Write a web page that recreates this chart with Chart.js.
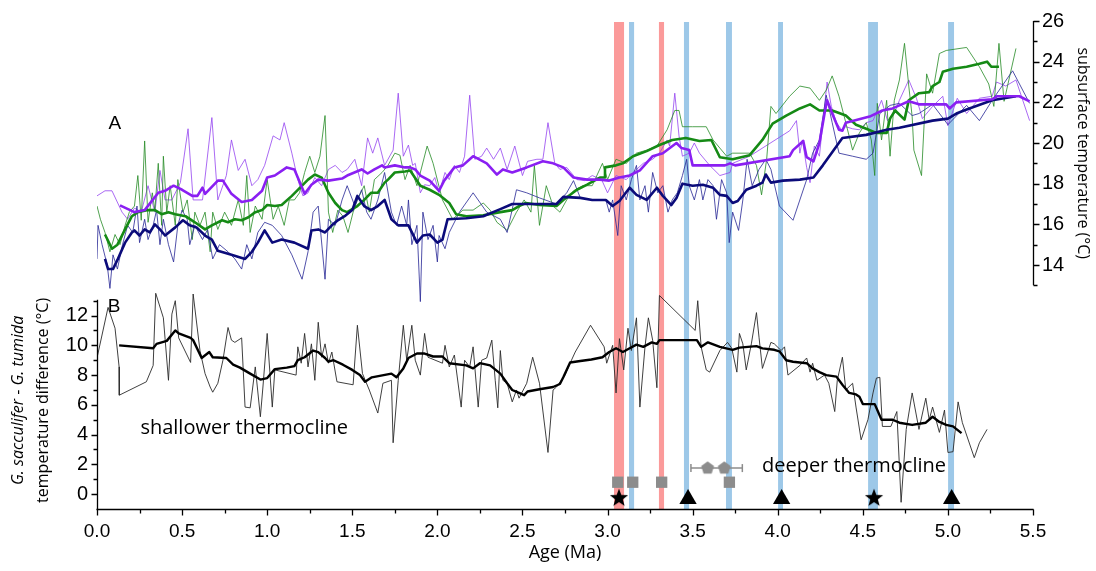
<!DOCTYPE html>
<html>
<head>
<meta charset="utf-8">
<script src="https://cdn.jsdelivr.net/npm/chart.js@4/dist/chart.umd.min.js"></script>
<style>
    html, body { margin: 0; padding: 0; background: #fff; }
</style>
</head>
<body>
<canvas id="chart" width="1096" height="571"></canvas>
<script>

// A: subsurface temperature records (violet, green, navy), raw and smoothed
var violetAge = [
    0, 0.047, 0.088, 0.147, 0.18, 0.22, 0.26, 0.30, 0.34, 0.37,
    0.40, 0.44, 0.49, 0.535, 0.565, 0.62, 0.675, 0.71, 0.76, 0.79,
    0.83, 0.87, 0.91, 0.945, 0.985, 1.035, 1.075, 1.10, 1.145, 1.18,
    1.21, 1.24, 1.28, 1.32, 1.36, 1.40, 1.44, 1.47, 1.515, 1.555,
    1.59, 1.62, 1.65, 1.69, 1.74, 1.77, 1.80, 1.83, 1.855, 1.87,
    1.90, 1.925, 1.955, 1.985, 2.01, 2.045, 2.07, 2.10, 2.13, 2.16,
    2.19, 2.22, 2.26, 2.29, 2.33, 2.37, 2.41, 2.455, 2.50, 2.53,
    2.585, 2.62, 2.65, 2.69, 2.72, 2.76, 2.82, 2.865, 2.91, 2.965,
    3.0, 3.05, 3.11, 3.15, 3.21, 3.265, 3.305, 3.35, 3.365, 3.395,
    3.42, 3.44, 3.48, 3.51, 3.54, 3.60, 3.66, 3.72, 3.735, 3.835,
    4.07, 4.11, 4.13, 4.145, 4.17, 4.19, 4.215, 4.245, 4.265, 4.29,
    4.315, 4.345, 4.375, 4.40, 4.44, 4.48, 4.52, 4.56, 4.61, 4.645,
    4.685, 4.715, 4.77, 4.815, 4.85, 4.91, 4.97, 5.0, 5.055, 5.11,
    5.185, 5.26, 5.285, 5.34, 5.40, 5.48
]
var violetTemp = [
    17.4, 17.65, 17.65, 16.6, 16.25, 16.8, 16.6, 17.9, 16.6, 18.65,
    17.2, 17.2, 18.05, 20.7, 17.2, 17.2, 21.25, 17.2, 18.4, 20.15,
    18.65, 19.2, 17.9, 18.2, 18.9, 20.35, 20.15, 21.0, 19.5, 18.2,
    17.4, 17.55, 18.3, 17.9, 18.7, 18.9, 18.55, 18.7, 19.2, 17.9,
    20.25, 19.5, 20.25, 18.9, 19.65, 22.45, 19.35, 19.9, 18.9, 19.0,
    17.55, 17.95, 17.9, 18.3, 17.55, 18.55, 18.2, 18.9, 18.55, 19.35,
    22.35, 19.2, 19.35, 19.75, 19.2, 19.75, 18.7, 19.85, 18.4, 19.1,
    19.2, 19.2, 21.0, 19.0, 18.7, 18.8, 18.2, 18.15, 18.4, 18.2,
    17.55, 18.4, 18.2, 18.55, 19.0, 19.2, 19.5, 20.15, 19.85, 22.45,
    20.35, 19.35, 19.5, 20.0, 19.5, 18.9, 18.4, 18.55, 19.0, 19.35,
    20.6, 21.1, 19.5, 20.15, 18.8, 18.05, 19.85, 19.35, 21.0, 23.0,
    21.8, 21.0, 20.65, 20.8, 20.7, 20.65, 21.0, 21.1, 22.1, 21.1,
    21.45, 22.1, 23.1, 22.2, 21.2, 21.8, 22.3, 20.85, 22.2, 21.45,
    22.2, 22.3, 23.0, 22.8, 23.1, 21.1
]
var violetSmoothAge = [
    0.135, 0.22, 0.28, 0.36, 0.40, 0.45, 0.50, 0.56, 0.59, 0.62,
    0.635, 0.71, 0.74, 0.79, 0.85, 0.91, 0.97, 1.0, 1.045, 1.115,
    1.16, 1.22, 1.26, 1.30, 1.36, 1.44, 1.47, 1.555, 1.59, 1.63,
    1.675, 1.69, 1.75, 1.81, 1.84, 1.87, 1.90, 1.955, 2.01, 2.04,
    2.10, 2.15, 2.21, 2.29, 2.35, 2.385, 2.44, 2.525, 2.62, 2.68,
    2.74, 2.80, 2.88, 2.955, 3.01, 3.07, 3.13, 3.19, 3.265, 3.325,
    3.405, 3.435, 3.48, 3.50, 3.69, 3.72, 3.75, 4.07, 4.09, 4.15,
    4.17, 4.21, 4.245, 4.275, 4.29, 4.32, 4.36, 4.38, 4.40, 4.54,
    4.615, 4.675, 4.715, 4.77, 4.83, 4.99, 5.01, 5.05, 5.26, 5.29,
    5.42, 5.48
]
var violetSmoothTemp = [
    16.93, 16.6, 16.7, 17.55, 17.65, 17.9, 17.7, 17.4, 17.4, 17.8,
    17.5, 18.15, 18.15, 17.5, 17.1, 17.2, 17.65, 18.3, 18.4, 18.8,
    18.7, 17.5, 17.95, 18.2, 18.15, 18.25, 18.4, 18.7, 18.5, 18.7,
    18.9, 18.8, 18.9, 18.8, 18.8, 18.7, 18.4, 18.15, 17.65, 18.15,
    18.8, 18.9, 19.35, 19.0, 18.45, 18.7, 18.55, 18.8, 19.1, 19.0,
    18.8, 18.3, 18.2, 18.2, 18.15, 18.3, 18.4, 18.65, 19.35, 19.5,
    20.0, 19.75, 19.65, 18.9, 18.9, 19.0, 18.9, 19.35, 19.65, 20.1,
    19.3, 19.1, 20.0, 21.45, 22.1, 21.45, 20.65, 20.6, 21.0, 21.3,
    21.6, 21.7, 21.85, 22.05, 21.9, 21.9, 21.7, 22.0, 22.15, 22.3,
    22.3, 22.05
]

var greenAge = [
    0, 0.02, 0.047, 0.076, 0.106, 0.135, 0.165, 0.19, 0.22, 0.24,
    0.26, 0.28, 0.30, 0.325, 0.34, 0.36, 0.38, 0.39, 0.41, 0.43,
    0.46, 0.475, 0.505, 0.53, 0.56, 0.575, 0.605, 0.635, 0.665, 0.68,
    0.71, 0.75, 0.79, 0.83, 0.86, 0.88, 0.90, 0.93, 0.97, 1.0,
    1.035, 1.065, 1.10, 1.13, 1.16, 1.19, 1.22, 1.25, 1.28, 1.31,
    1.34, 1.36, 1.385, 1.415, 1.445, 1.475, 1.505, 1.53, 1.57, 1.60,
    1.63, 1.675, 1.71, 1.75, 1.78, 1.81, 1.84, 1.88, 1.94, 1.975,
    2.03, 2.09, 2.15, 2.21, 2.27, 2.31, 2.35, 2.41, 2.465, 2.51,
    2.55, 2.57, 2.60, 2.64, 2.68, 2.72, 2.76, 2.80, 2.855, 2.91,
    2.97, 3.0, 3.05, 3.11, 3.17, 3.23, 3.29, 3.35, 3.395, 3.42,
    3.44, 3.50, 3.58, 3.62, 3.70, 3.735, 3.835, 3.875, 3.905, 3.935,
    3.96, 3.99, 4.07, 4.13, 4.19, 4.245, 4.285, 4.32, 4.36, 4.40,
    4.44, 4.48, 4.52, 4.55, 4.57, 4.585, 4.61, 4.64, 4.66, 4.685,
    4.715, 4.745, 4.77, 4.79, 4.80, 4.845, 4.875, 4.91, 4.95, 4.99,
    5.11, 5.185, 5.24, 5.27, 5.30, 5.33, 5.40
]
var greenTemp = [
    16.9, 16.25, 15.6, 14.65, 15.5, 15.0, 15.95, 16.6, 16.9, 18.4,
    16.2, 20.1, 16.1, 17.55, 16.7, 19.0, 15.95, 19.35, 16.6, 17.9,
    15.95, 18.2, 16.6, 17.2, 15.25, 16.6, 15.95, 16.6, 14.65, 16.6,
    15.75, 16.6, 15.95, 17.2, 15.95, 18.4, 15.6, 16.9, 16.25, 18.2,
    16.25, 16.9, 15.95, 17.2, 17.2, 17.55, 18.55, 19.35, 18.55, 19.35,
    21.35, 16.6, 15.6, 16.7, 16.4, 15.6, 16.6, 17.2, 17.9, 16.6,
    18.2, 18.55, 18.9, 19.5, 19.4, 18.2, 18.9, 17.9, 19.85, 19.0,
    17.2, 16.25, 16.7, 16.7, 17.05, 16.7, 16.1, 15.7, 16.6, 17.2,
    16.6, 18.9, 15.95, 17.9, 16.9, 16.6, 17.2, 17.65, 17.9, 17.9,
    19.0, 18.2, 19.2, 19.0, 19.5, 19.65, 19.85, 20.65, 21.6, 21.6,
    20.8, 20.8, 20.8, 20.15, 19.35, 19.5, 19.5, 18.9, 17.45, 19.2,
    21.8, 21.45, 22.3, 22.8, 22.7, 22.1, 22.6, 23.3, 22.3, 21.0,
    19.65, 20.5, 21.0, 20.15, 18.4, 21.95, 20.15, 22.1, 19.35, 22.1,
    23.1, 24.9, 22.8, 21.3, 19.65, 18.4, 23.4, 22.45, 24.4, 24.55,
    24.7, 23.75, 22.9, 21.8, 24.9, 22.05, 24.65
]
var greenSmoothAge = [
    0.047, 0.088, 0.12, 0.165, 0.205, 0.24, 0.30, 0.34, 0.38, 0.42,
    0.46, 0.52, 0.575, 0.635, 0.675, 0.735, 0.77, 0.81, 0.85, 0.89,
    0.93, 0.97, 1.0, 1.045, 1.085, 1.145, 1.205, 1.24, 1.28, 1.32,
    1.36, 1.40, 1.44, 1.47, 1.53, 1.57, 1.61, 1.65, 1.69, 1.71,
    1.75, 1.81, 1.84, 1.90, 1.955, 2.01, 2.07, 2.11, 2.17, 2.27,
    2.37, 2.44, 2.48, 2.52, 2.60, 2.70, 2.74, 2.82, 2.88, 2.955,
    2.98, 2.985, 3.05, 3.09, 3.15, 3.23, 3.305, 3.38, 3.46, 3.54,
    3.61, 3.66, 3.735, 3.835, 3.91, 3.97, 4.05, 4.13, 4.19, 4.245,
    4.32, 4.40, 4.46, 4.52, 4.58, 4.64, 4.66, 4.69, 4.745, 4.77,
    4.83, 4.89, 4.91, 4.95, 4.97, 5.03, 5.11, 5.185, 5.23, 5.255,
    5.30
]
var greenSmoothTemp = [
    15.5, 14.8, 15.0, 15.75, 16.4, 16.6, 16.7, 16.7, 16.5, 16.6,
    16.5, 16.4, 16.1, 15.75, 15.95, 16.2, 16.1, 16.25, 16.2, 16.35,
    16.6, 16.7, 16.95, 16.9, 16.95, 17.4, 17.9, 18.2, 18.45, 18.3,
    17.55, 17.05, 16.7, 16.6, 16.9, 17.2, 17.55, 17.55, 18.05, 18.2,
    18.55, 18.6, 18.65, 17.9, 17.7, 17.45, 17.05, 16.5, 16.4, 16.45,
    16.6, 16.7, 16.9, 17.05, 16.95, 16.9, 17.2, 17.7, 17.95, 18.3,
    18.3, 18.8, 18.9, 19.0, 19.35, 19.6, 19.9, 20.15, 20.25, 20.1,
    20.15, 19.3, 19.2, 19.4, 20.15, 20.95, 21.35, 21.7, 21.9, 21.6,
    21.6, 21.35, 20.9, 20.7, 20.5, 20.5, 21.2, 21.6, 21.15, 22.1,
    22.45, 22.5, 22.8, 23.0, 23.5, 23.65, 23.75, 23.9, 24.0, 23.75,
    23.75
]

var navyAge = [
    0, 0.006, 0.03, 0.06, 0.076, 0.094, 0.12, 0.15, 0.18, 0.21,
    0.235, 0.25, 0.28, 0.30, 0.33, 0.35, 0.37, 0.39, 0.42, 0.45,
    0.475, 0.50, 0.53, 0.545, 0.575, 0.62, 0.65, 0.68, 0.72, 0.77,
    0.81, 0.85, 0.88, 0.91, 0.945, 0.985, 1.03, 1.085, 1.145, 1.205,
    1.24, 1.27, 1.30, 1.34, 1.36, 1.40, 1.44, 1.47, 1.515, 1.555,
    1.585, 1.61, 1.65, 1.69, 1.73, 1.76, 1.79, 1.82, 1.83, 1.85,
    1.88, 1.90, 1.915, 1.945, 1.975, 2.0, 2.01, 2.045, 2.07, 2.13,
    2.21, 2.29, 2.37, 2.41, 2.465, 2.525, 2.60, 2.70, 2.76, 2.80,
    2.84, 2.91, 2.99, 3.01, 3.03, 3.06, 3.08, 3.11, 3.14, 3.17,
    3.19, 3.22, 3.24, 3.265, 3.295, 3.325, 3.355, 3.38, 3.41, 3.44,
    3.465, 3.48, 3.51, 3.54, 3.56, 3.59, 3.62, 3.64, 3.67, 3.70,
    3.715, 3.735, 3.77, 3.795, 3.82, 3.85, 3.89, 3.93, 3.96, 4.01,
    4.09, 4.17, 4.205, 4.245, 4.285, 4.32, 4.36, 4.44, 4.52, 4.56,
    4.60, 4.66, 4.715, 4.79, 4.83, 4.91, 5.0, 5.11, 5.185, 5.26,
    5.38, 5.48
]
var navyTemp = [
    14.3, 15.95, 15.0, 14.0, 12.85, 14.5, 13.8, 15.0, 15.95, 15.6,
    16.9, 15.1, 16.25, 15.25, 15.95, 16.7, 15.0, 16.25, 15.0, 14.15,
    15.95, 16.7, 16.25, 15.0, 15.95, 15.25, 15.75, 14.3, 15.0, 14.65,
    14.3, 13.8, 15.0, 14.3, 15.6, 16.1, 15.95, 15.45, 14.5, 13.3,
    14.65, 16.6, 16.9, 13.3, 16.25, 15.95, 17.2, 17.9, 16.9, 17.7,
    16.6, 16.25, 17.2, 18.55, 16.6, 15.95, 16.9, 15.95, 17.2, 15.0,
    15.95, 12.2, 16.6, 15.25, 15.95, 14.15, 15.45, 14.8, 15.6, 16.6,
    17.55, 16.6, 16.25, 15.6, 17.7, 17.55, 17.3, 17.0, 17.55, 18.15,
    17.3, 17.2, 17.2, 16.6, 17.2, 15.45, 17.9, 17.2, 18.2, 18.9,
    17.2, 17.9, 16.6, 18.55, 17.55, 17.9, 16.6, 17.2, 17.55, 18.4,
    19.2, 17.9, 17.2, 18.2, 17.2, 18.2, 17.9, 16.25, 18.2, 17.55,
    15.1, 16.6, 15.7, 17.2, 19.2, 17.9, 18.7, 19.2, 18.7, 16.9,
    16.2, 18.2, 19.5, 20.15, 22.35, 21.0, 19.5, 19.35, 19.2, 19.5,
    21.45, 21.85, 21.95, 21.35, 21.45, 21.9, 20.9, 21.85, 21.1, 22.1,
    23.55, 21.95
]
var navySmoothAge = [
    0.047, 0.065, 0.094, 0.12, 0.165, 0.205, 0.22, 0.25, 0.28, 0.31,
    0.34, 0.37, 0.40, 0.46, 0.505, 0.545, 0.585, 0.635, 0.675, 0.71,
    0.79, 0.87, 0.91, 0.945, 0.985, 1.03, 1.085, 1.16, 1.24, 1.26,
    1.30, 1.34, 1.38, 1.415, 1.455, 1.50, 1.53, 1.57, 1.61, 1.65,
    1.69, 1.73, 1.77, 1.83, 1.88, 1.915, 1.955, 2.0, 2.03, 2.06,
    2.17, 2.27, 2.37, 2.44, 2.52, 2.60, 2.70, 2.74, 2.84, 2.91,
    2.99, 3.03, 3.07, 3.13, 3.17, 3.23, 3.29, 3.325, 3.375, 3.405,
    3.44, 3.50, 3.56, 3.62, 3.66, 3.70, 3.735, 3.765, 3.815, 3.875,
    3.91, 3.93, 3.96, 4.03, 4.13, 4.21, 4.265, 4.32, 4.38, 4.52,
    4.64, 4.715, 4.91, 5.0, 5.05, 5.11, 5.26, 5.40
]
var navySmoothTemp = [
    14.3, 13.8, 13.8, 14.25, 15.1, 15.6, 15.7, 15.45, 15.75, 15.6,
    16.0, 15.75, 15.45, 15.85, 16.2, 15.95, 15.85, 15.45, 15.25, 14.7,
    14.5, 14.3, 14.65, 15.1, 15.7, 15.1, 15.25, 15.1, 14.8, 15.7,
    15.75, 15.6, 15.95, 16.2, 16.4, 16.7, 17.4, 16.9, 16.7, 16.9,
    17.2, 16.25, 15.95, 15.95, 15.1, 15.45, 15.5, 15.1, 15.25, 16.25,
    16.3, 16.4, 16.75, 17.0, 17.0, 17.0, 17.0, 17.35, 17.3, 17.2,
    17.2, 16.9, 17.15, 17.8, 17.45, 17.2, 17.8, 17.4, 16.95, 17.3,
    18.0, 17.9, 17.95, 17.8, 17.45, 17.4, 17.05, 17.15, 17.7, 17.9,
    18.05, 18.45, 18.05, 18.15, 18.2, 18.3, 18.9, 19.55, 20.25, 20.4,
    20.65, 20.75, 21.1, 21.2, 21.45, 21.65, 22.1, 22.3
]

// B: G. sacculifer - G. tumida temperature difference, raw and smoothed
var diffAge = [
    0, 0.065, 0.106, 0.13, 0.131, 0.29, 0.33, 0.345, 0.39, 0.42,
    0.44, 0.46, 0.48, 0.55, 0.565, 0.605, 0.635, 0.665, 0.68, 0.71,
    0.74, 0.77, 0.79, 0.81, 0.85, 0.87, 0.90, 0.93, 0.96, 0.975,
    1.0, 1.03, 1.045, 1.17, 1.18, 1.20, 1.22, 1.24, 1.26, 1.28,
    1.30, 1.32, 1.34, 1.36, 1.38, 1.41, 1.505, 1.53, 1.56, 1.60,
    1.65, 1.68, 1.73, 1.74, 1.77, 1.80, 1.82, 1.85, 1.87, 1.90,
    1.925, 1.945, 2.03, 2.045, 2.07, 2.10, 2.14, 2.16, 2.19, 2.21,
    2.24, 2.26, 2.29, 2.32, 2.34, 2.355, 2.37, 2.385, 2.41, 2.44,
    2.465, 2.48, 2.525, 2.56, 2.60, 2.65, 2.68, 2.70, 2.75, 2.78,
    2.81, 2.90, 2.98, 2.995, 3.03, 3.05, 3.07, 3.095, 3.12, 3.14,
    3.17, 3.19, 3.22, 3.24, 3.265, 3.29, 3.305, 3.515, 3.53, 3.55,
    3.58, 3.60, 3.66, 3.705, 3.73, 3.76, 3.775, 3.795, 3.815, 3.845,
    3.875, 3.89, 3.91, 3.96, 3.98, 4.02, 4.04, 4.06, 4.13, 4.17,
    4.19, 4.205, 4.23, 4.275, 4.30, 4.335, 4.35, 4.38, 4.40, 4.44,
    4.46, 4.49, 4.53, 4.56, 4.58, 4.60, 4.615, 4.665, 4.70, 4.725,
    4.755, 4.79, 4.83, 4.87, 4.89, 4.91, 4.95, 4.98, 5.0, 5.03,
    5.06, 5.085, 5.155, 5.185, 5.23
]
var diffTemp = [
    9.15, 12.55, 11.15, 8.55, 6.65, 7.55, 8.65, 13.5, 11.85, 7.65,
    12.1, 13.0, 10.5, 8.85, 13.45, 9.65, 8.1, 7.2, 6.85, 7.45,
    9.0, 11.2, 10.35, 10.2, 10.5, 5.85, 5.8, 8.55, 5.2, 7.2,
    10.8, 5.85, 8.35, 8.0, 9.9, 8.8, 10.8, 8.55, 10.1, 7.65,
    11.55, 9.2, 10.1, 8.8, 9.55, 7.55, 7.35, 11.35, 8.1, 7.0,
    5.45, 7.45, 7.65, 3.45, 7.65, 11.35, 9.0, 11.35, 9.0, 8.0,
    10.8, 9.2, 8.8, 10.0, 8.55, 9.35, 5.85, 9.0, 8.55, 9.9,
    5.85, 9.0, 9.15, 10.35, 7.65, 5.8, 9.65, 7.65, 7.45, 6.2,
    7.0, 6.45, 7.45, 9.2, 7.45, 2.8, 7.0, 7.2, 8.0, 8.8,
    9.55, 11.35, 9.9, 8.8, 10.0, 6.8, 10.45, 8.35, 11.15, 9.65,
    11.85, 5.85, 9.9, 11.85, 10.35, 7.15, 13.35, 11.0, 13.0, 9.9,
    8.35, 8.2, 9.65, 10.2, 9.8, 8.2, 10.8, 10.1, 8.35, 10.1,
    12.2, 10.55, 8.45, 10.2, 10.1, 9.65, 9.9, 8.0, 8.65, 9.15,
    8.2, 8.8, 7.65, 8.0, 7.45, 5.55, 7.65, 9.2, 7.0, 7.45,
    5.85, 3.65, 5.0, 6.8, 7.8, 7.85, 4.55, 4.55, 5.55, -0.55,
    4.35, 6.8, 4.35, 6.45, 5.0, 5.85, 4.15, 5.65, 2.8, 2.85,
    6.2, 4.8, 2.45, 3.45, 4.35
]
var diffSmoothAge = [
    0.13, 0.33, 0.35, 0.41, 0.46, 0.48, 0.55, 0.565, 0.615, 0.66,
    0.68, 0.76, 0.80, 0.84, 0.90, 0.96, 1.0, 1.045, 1.115, 1.16,
    1.18, 1.22, 1.27, 1.30, 1.34, 1.36, 1.39, 1.445, 1.50, 1.545,
    1.575, 1.615, 1.73, 1.76, 1.80, 1.83, 1.88, 1.925, 1.975, 2.03,
    2.07, 2.17, 2.21, 2.25, 2.31, 2.37, 2.41, 2.44, 2.48, 2.51,
    2.53, 2.60, 2.68, 2.72, 2.74, 2.78, 2.84, 2.905, 2.97, 3.01,
    3.05, 3.09, 3.13, 3.17, 3.21, 3.26, 3.29, 3.305, 3.525, 3.55,
    3.59, 3.66, 3.735, 3.775, 3.875, 3.91, 3.98, 4.01, 4.05, 4.09,
    4.17, 4.205, 4.245, 4.285, 4.345, 4.38, 4.42, 4.46, 4.48, 4.50,
    4.57, 4.61, 4.675, 4.715, 4.79, 4.87, 4.91, 4.95, 4.99, 5.03,
    5.08
]
var diffSmoothTemp = [
    10.0, 9.8, 10.1, 10.3, 11.0, 10.8, 10.5, 10.35, 9.15, 9.55,
    9.2, 9.15, 8.7, 8.5, 8.1, 7.7, 7.8, 8.4, 8.5, 8.6,
    9.0, 9.2, 9.65, 9.55, 9.15, 8.9, 9.0, 8.7, 8.35, 8.0,
    7.55, 7.85, 8.1, 7.85, 8.45, 9.15, 9.45, 9.45, 9.25, 9.25,
    8.8, 8.65, 8.45, 8.8, 8.65, 8.1, 7.45, 7.0, 6.8, 6.65,
    6.9, 7.05, 7.2, 7.4, 7.85, 8.85, 8.95, 9.05, 9.2, 9.55,
    9.8, 9.55, 9.8, 10.05, 9.9, 10.2, 10.1, 10.35, 10.35, 9.9,
    10.2, 9.9, 9.7, 9.85, 9.95, 9.8, 9.7, 9.6, 9.0, 8.9,
    8.8, 8.45, 8.2, 8.0, 7.9, 7.35, 6.8, 6.7, 6.55, 6.05,
    6.05, 5.0, 5.0, 4.8, 4.65, 4.8, 5.2, 4.85, 4.65, 4.55,
    4.1
]

// tick labels
var ageTicks = [0, 0.5, 1, 1.5, 2, 2.5, 3, 3.5, 4, 4.5, 5, 5.5]
var tempTicks = [14, 16, 18, 20, 22, 24, 26]
var diffTicks = [0, 2, 4, 6, 8, 10, 12]

// shaded age intervals (Ma)
var redBands = [[3.038, 3.097], [3.302, 3.332]]
var blueBands = [[3.126, 3.156], [3.449, 3.479], [3.696, 3.731], [4.002, 4.031], [4.531, 4.589], [5.001, 5.036]]

// event markers along the bottom of panel B
var squareAges = [3.06, 3.148, 3.318, 3.716]
var pentagonAges = [3.588, 3.686]
var pentagonRange = [3.49, 3.792]
var triangleAges = [3.473, 4.023, 5.022]
var starAges = [3.067, 4.566]
var squareLevel = 0.8
var pentagonLevel = 1.75
var triangleLevel = -0.33
var starLevel = -0.27


var SANS = '"Open Sans", "Liberation Sans", sans-serif'
var TICKFONT = '"Liberation Sans", Arial, sans-serif'
var GREY = '#8c8c8c'

function pairs(xs, ys) {
    return xs.map((x, i) => ({ x: x, y: ys[i] }))
}

function series(xs, ys, axis, color, width, order) {
    return {
        data: pairs(xs, ys),
        yAxisID: axis,
        showLine: true,
        borderColor: color,
        borderWidth: width,
        borderJoinStyle: 'round',
        pointRadius: 0,
        pointHoverRadius: 0,
        order: order
    }
}

function markers(xs, level, style, color, radius, order) {
    return {
        data: xs.map(x => ({ x: x, y: level })),
        yAxisID: 'y',
        showLine: false,
        pointStyle: style,
        pointRadius: radius,
        pointHoverRadius: radius,
        backgroundColor: color,
        borderColor: color,
        pointBorderWidth: 0,
        order: order
    }
}

// small filled shapes used as point styles
function shape(size, color, points) {
    var c = document.createElement('canvas')
    c.width = size
    c.height = size
    var g = c.getContext('2d')
    g.fillStyle = color
    g.beginPath()
    points.forEach((p, i) => i ? g.lineTo(size / 2 + p[0], size / 2 + p[1]) : g.moveTo(size / 2 + p[0], size / 2 + p[1]))
    g.closePath()
    g.fill()
    return c
}

function polygon(n, rOuter, rInner) {
    var pts = []
    var steps = rInner ? n * 2 : n
    for (var i = 0; i < steps; i++) {
        var r = (rInner && i % 2) ? rInner : rOuter
        var a = -Math.PI / 2 + i * Math.PI * 2 / steps
        pts.push([Math.cos(a) * r, Math.sin(a) * r])
    }
    return pts
}

var pentagonImg = shape(16, GREY, polygon(5, 6.8))
var starImg = shape(22, '#000', polygon(5, 9.6, 4))


var datasets = [
    markers(starAges, starLevel, starImg, '#000', 10, 0),
    markers(triangleAges, triangleLevel, 'triangle', '#000', 10, 0),
    markers(squareAges, squareLevel, 'rect', GREY, 8, 0),
    markers(pentagonAges, pentagonLevel, pentagonImg, GREY, 8, 0),
    {
        data: pentagonRange.map(x => ({ x: x, y: pentagonLevel })),
        yAxisID: 'y',
        showLine: true,
        borderColor: GREY,
        borderWidth: 1.5,
        pointStyle: 'line',
        rotation: 90,
        pointRadius: 4,
        pointBorderColor: GREY,
        pointBorderWidth: 1.5,
        order: 1
    },
    series(diffSmoothAge, diffSmoothTemp, 'y', '#000', 2.4, 2),
    series(diffAge, diffTemp, 'y', '#2a2a2a', 0.9, 3),
    series(violetSmoothAge, violetSmoothTemp, 'y2', '#8a1ff2', 2.6, 4),
    series(navySmoothAge, navySmoothTemp, 'y2', '#0b0b7a', 2.6, 5),
    series(greenSmoothAge, greenSmoothTemp, 'y2', '#158a15', 2.6, 6),
    series(navyAge, navyTemp, 'y2', 'rgba(40, 40, 150, 0.9)', 0.9, 7),
    series(greenAge, greenTemp, 'y2', 'rgba(40, 140, 40, 0.9)', 0.9, 8),
    series(violetAge, violetTemp, 'y2', 'rgba(150, 70, 240, 0.9)', 0.9, 9)
]


function drawMixed(ctx, parts) {
    var total = 0
    parts.forEach(p => { ctx.font = p[1]; total += ctx.measureText(p[0]).width })
    var x = -total / 2
    parts.forEach(p => {
        ctx.font = p[1]
        ctx.fillText(p[0], x, 0)
        x += ctx.measureText(p[0]).width
    })
}

var decor = {
    id: 'decor',
    beforeDatasetsDraw(chart) {
        var ctx = chart.ctx
        var xs = chart.scales.x
        var area = chart.chartArea
        ctx.save()
        var paint = (bands, color) => {
            ctx.fillStyle = color
            bands.forEach(b => {
                var x0 = xs.getPixelForValue(b[0])
                var x1 = xs.getPixelForValue(b[1])
                ctx.fillRect(x0, area.top + 1, x1 - x0, area.bottom - area.top - 1)
            })
        }
        paint(redBands, '#fb9a9a')
        paint(blueBands, '#9dc8e8')
        ctx.restore()
    },
    afterDatasetsDraw(chart) {
        var ctx = chart.ctx
        var xs = chart.scales.x
        var yl = chart.scales.y
        var yr = chart.scales.y2
        ctx.save()
        ctx.strokeStyle = '#000'
        ctx.lineWidth = 1.3

        // age axis
        var yb = Math.round(yl.getPixelForValue(-1)) + 0.5
        ctx.beginPath()
        ctx.moveTo(xs.getPixelForValue(0) - 0.6, yb)
        ctx.lineTo(xs.getPixelForValue(5.5) + 0.6, yb)
        for (var a = 0; a <= 5.5001; a += 0.25) {
            var px = Math.round(xs.getPixelForValue(a)) + 0.5
            var major = Math.abs(a * 2 - Math.round(a * 2)) < 1e-6
            ctx.moveTo(px, yb)
            ctx.lineTo(px, yb + (major ? 6 : 4))
        }
        ctx.stroke()

        // difference axis (left)
        var xl = Math.round(xs.getPixelForValue(0)) + 0.5
        ctx.beginPath()
        ctx.moveTo(xl, yb)
        ctx.lineTo(xl, yl.getPixelForValue(13.07))
        for (var v = 0; v <= 13; v++) {
            var py = Math.round(yl.getPixelForValue(v)) + 0.5
            ctx.moveTo(xl, py)
            ctx.lineTo(xl - (v % 2 ? 4 : 6), py)
        }
        ctx.stroke()

        // temperature axis (right)
        var xr = Math.round(xs.getPixelForValue(5.5)) + 0.5
        ctx.beginPath()
        ctx.moveTo(xr, yr.getPixelForValue(26))
        ctx.lineTo(xr, yr.getPixelForValue(13))
        for (var t = 13; t <= 26; t++) {
            var ty = Math.round(yr.getPixelForValue(t)) + 0.5
            ctx.moveTo(xr, ty)
            ctx.lineTo(xr + (t % 2 ? 4 : 6), ty)
        }
        ctx.stroke()

        ctx.fillStyle = '#000'
        ctx.textBaseline = 'middle'
        ctx.textAlign = 'center'

        // panel letters
        ctx.font = '19px ' + TICKFONT
        ctx.fillText('A', xs.getPixelForValue(0.105), yr.getPixelForValue(20.95))
        ctx.fillText('B', xs.getPixelForValue(0.1), yl.getPixelForValue(12.6))

        // annotations
        ctx.font = '20px ' + SANS
        ctx.fillText('shallower thermocline', xs.getPixelForValue(0.865), yl.getPixelForValue(4.4))
        ctx.fillText('deeper thermocline', xs.getPixelForValue(4.448), yl.getPixelForValue(1.87))

        // left title, two lines, rotated
        var cy = yl.getPixelForValue(6.3)
        ctx.textAlign = 'left'
        ctx.save()
        ctx.translate(18, cy)
        ctx.rotate(-Math.PI / 2)
        drawMixed(ctx, [
            ['G. sacculifer', 'italic 16px ' + SANS],
            [' - ', '16px ' + SANS],
            ['G. tumida', 'italic 16px ' + SANS]
        ])
        ctx.restore()
        ctx.save()
        ctx.translate(43, cy)
        ctx.rotate(-Math.PI / 2)
        drawMixed(ctx, [['temperature difference (°C)', '16px ' + SANS]])
        ctx.restore()

        // right title
        ctx.save()
        ctx.translate(chart.chartArea.right + 50, yr.getPixelForValue(19.5))
        ctx.rotate(Math.PI / 2)
        drawMixed(ctx, [['subsurface temperature (°C)', '16px ' + SANS]])
        ctx.restore()

        ctx.restore()
    }
}


var chart = new Chart(document.getElementById('chart'), {
    type: 'scatter',
    data: { datasets: datasets },
    options: {
        responsive: false,
        animation: false,
        events: [],
        layout: { padding: { top: 17, left: 0, right: 0, bottom: 0 } },
        plugins: {
            legend: { display: false },
            tooltip: { enabled: false }
        },
        scales: {
            x: {
                type: 'linear',
                position: 'bottom',
                min: 0,
                max: 5.5,
                afterBuildTicks: s => { s.ticks = ageTicks.map(v => ({ value: v })) },
                afterFit: s => { s.height = 62 },
                grid: { display: false, drawTicks: false },
                border: { display: false },
                ticks: {
                    padding: 11,
                    autoSkip: false,
                    maxRotation: 0,
                    color: '#000',
                    font: { family: TICKFONT, size: 19 },
                    callback: v => v.toFixed(1)
                },
                title: {
                    display: true,
                    text: 'Age (Ma)',
                    color: '#000',
                    font: { family: SANS, size: 18 },
                    padding: { top: 0, bottom: 7 }
                }
            },
            y: {
                type: 'linear',
                position: 'left',
                min: -1,
                max: 31.8,
                afterBuildTicks: s => { s.ticks = diffTicks.map(v => ({ value: v })) },
                afterFit: s => { s.width = 97 },
                grid: { display: false, drawTicks: false },
                border: { display: false },
                ticks: {
                    padding: 9,
                    autoSkip: false,
                    color: '#000',
                    font: { family: TICKFONT, size: 20 }
                }
            },
            y2: {
                type: 'linear',
                position: 'right',
                min: 2,
                max: 26,
                afterBuildTicks: s => { s.ticks = tempTicks.map(v => ({ value: v })) },
                afterFit: s => { s.width = 63 },
                grid: { display: false, drawTicks: false },
                border: { display: false },
                ticks: {
                    padding: 9,
                    autoSkip: false,
                    color: '#000',
                    font: { family: TICKFONT, size: 20 }
                }
            }
        }
    },
    plugins: [decor]
})
</script>
</body>
</html>
